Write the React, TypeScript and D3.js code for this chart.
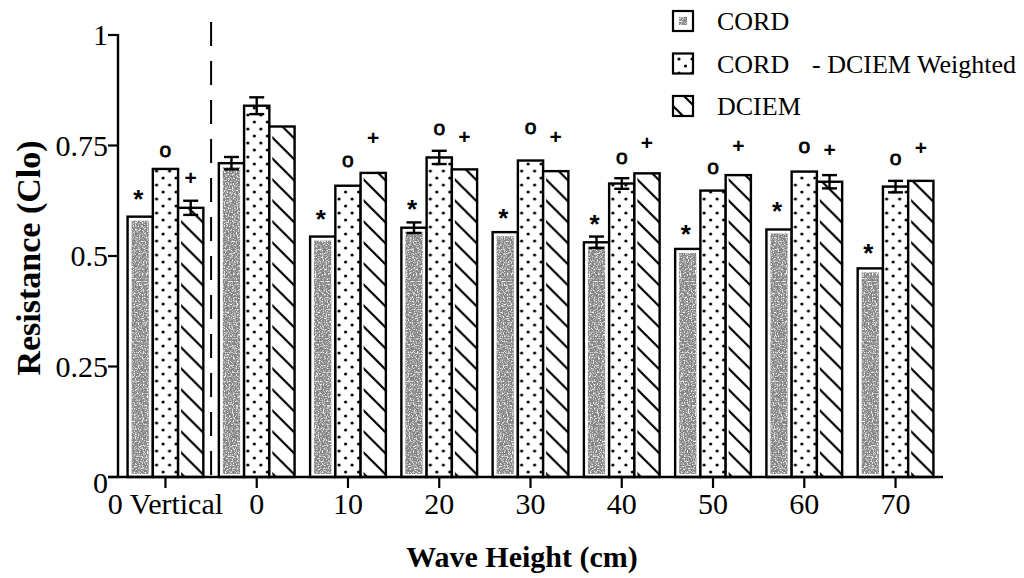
import React from "react";
import * as d3 from "d3";

const categories = ["0 Vertical", "0", "10", "20", "30", "40", "50", "60", "70"];
const seriesNames = ["CORD", "CORD - DCIEM Weighted", "DCIEM"];
const cordValues = [0.589, 0.71, 0.544, 0.564, 0.554, 0.531, 0.516, 0.56, 0.472];
const weightedValues = [0.697, 0.84, 0.659, 0.723, 0.716, 0.664, 0.648, 0.691, 0.657];
const dciemValues = [0.609, 0.793, 0.688, 0.696, 0.692, 0.687, 0.683, 0.668, 0.67];
const cordErrors = [0, 0.014, 0, 0.012, 0, 0.013, 0, 0, 0];
const weightedErrors = [0, 0.019, 0, 0.015, 0, 0.012, 0, 0, 0.013];
const dciemErrors = [0.016, 0, 0, 0, 0, 0, 0, 0.015, 0];
// significance markers (level in Clo where each symbol sits)
const starLevels = [0.643, null, 0.597, 0.62, 0.6, 0.586, 0.563, 0.615, 0.52];
const circleLevels = [0.738, null, 0.716, 0.787, 0.79, 0.722, 0.699, 0.747, 0.719];
const plusLevels = [0.676, null, 0.767, 0.769, 0.769, 0.756, 0.749, 0.74, 0.744];
const yTicks = [0, 0.25, 0.5, 0.75, 1];
const yTickLabels = ["0", "0.25", "0.5", "0.75", "1"];

const W = 1024;
const H = 578;
const SERIF = "'Liberation Serif', 'Times New Roman', serif";
const SANS = "'Liberation Sans', Arial, sans-serif";

export default function App() {
  const x = d3.scaleBand<string>().domain(categories).range([118, 943]).paddingInner(0.17).paddingOuter(0.105);
  const xs = d3.scaleBand<string>().domain(seriesNames).range([0, x.bandwidth()]);
  const y = d3.scaleLinear().domain([0, 1]).range([477, 35]);
  const bw = xs.bandwidth();
  const fills = ["url(#stipple)", "url(#dots)", "url(#hatch)"];
  const values = [cordValues, weightedValues, dciemValues];
  const errors = [cordErrors, weightedErrors, dciemErrors];
  const markers = [
    { levels: starLevels, sym: "*", series: 0, size: 26, weight: "bold", dy: 15, dx: -2 },
    { levels: circleLevels, sym: "o", series: 1, size: 21, weight: "normal", dy: 6, dx: 0 },
    { levels: plusLevels, sym: "+", series: 2, size: 21, weight: "bold", dy: 7, dx: 0 },
  ];
  const dashX = ((x(categories[0]) as number) + x.bandwidth() + (x(categories[1]) as number)) / 2;

  return (
    <svg width={W} height={H} style={{ position: "absolute", left: 0, top: 0, background: "#fff" }}>
      <defs>
        <filter id="grain" x="0" y="0" width="100%" height="100%">
          <feTurbulence type="fractalNoise" baseFrequency="0.75" numOctaves="2" seed="7" result="noise" />
          <feColorMatrix
            in="noise"
            type="matrix"
            values="0 0 0 0 0.22  0 0 0 0 0.22  0 0 0 0 0.22  0 0 0 3.4 -0.85"
            result="spk"
          />
          <feComposite in="spk" in2="SourceGraphic" operator="in" />
        </filter>
        <pattern id="dots" patternUnits="userSpaceOnUse" width="13" height="14">
          <rect width="13" height="14" fill="#fff" />
          <circle cx="3" cy="3" r="1.6" fill="#000" />
          <circle cx="9.5" cy="10" r="1.6" fill="#000" />
        </pattern>
        <pattern id="hatch" patternUnits="userSpaceOnUse" width="21" height="21">
          <rect width="21" height="21" fill="#fff" />
          <path d="M0,0 L21,21 M-2,19 L2,23 M19,-2 L23,2" stroke="#000" strokeWidth="2.2" />
        </pattern>
      </defs>

      {/* bars */}
      {categories.map((c, i) => (
        <g key={c} transform={`translate(${x(c)},0)`}>
          {values.map((vals, s) => {
            const bx = xs(seriesNames[s]) as number;
            const top = y(vals[i]);
            const h = y(0) - top;
            return (
              <g key={s}>
                <rect x={bx} y={top} width={bw} height={h} fill={s === 0 ? "#fff" : fills[s]} />
                {s === 0 && (
                  <rect x={bx + 4} y={top + 4} width={bw - 8} height={h - 7} fill="#fff" filter="url(#grain)" />
                )}
                {s === 2 && <rect x={bx} y={top} width={3} height={h} fill="#fff" />}
                <rect x={bx} y={top} width={bw} height={h} fill="none" stroke="#000" strokeWidth={2.4} />
              </g>
            );
          })}
          {errors.map((errs, s) => {
            const e = errs[i];
            if (!e) return null;
            const cx = (xs(seriesNames[s]) as number) + bw / 2;
            const v = values[s][i];
            return (
              <g key={"e" + s} stroke="#000" strokeWidth={2.4}>
                <line x1={cx} x2={cx} y1={y(v - e)} y2={y(v + e)} />
                <line x1={cx - 7.5} x2={cx + 7.5} y1={y(v + e)} y2={y(v + e)} />
                <line x1={cx - 7.5} x2={cx + 7.5} y1={y(v - e)} y2={y(v - e)} />
              </g>
            );
          })}
          {markers.map((m) => {
            const lv = m.levels[i];
            if (lv == null) return null;
            const cx = (xs(seriesNames[m.series]) as number) + bw / 2 + m.dx;
            return (
              <text
                key={m.sym}
                x={cx}
                y={y(lv) + m.dy}
                textAnchor="middle"
                fontFamily={SANS}
                fontWeight={m.weight}
                fontSize={m.size}
                fill="#000"
                stroke={m.sym === "o" ? "#000" : "none"}
                strokeWidth={m.sym === "o" ? 0.8 : 0}
              >
                {m.sym}
              </text>
            );
          })}
        </g>
      ))}

      {/* dashed separator */}
      <line x1={dashX} x2={dashX} y1={22} y2={y(0)} stroke="#000" strokeWidth={2} strokeDasharray="24 15" />

      {/* y axis */}
      <line x1={118} x2={118} y1={y(1) - 1} y2={y(0)} stroke="#000" strokeWidth={2.4} />
      {yTicks.map((t, i) => (
        <g key={t}>
          <line x1={108} x2={118} y1={y(t)} y2={y(t)} stroke="#000" strokeWidth={2.2} />
          <text
            x={108}
            y={y(t) + (t === 0 ? 16 : 10)}
            textAnchor="end"
            fontFamily={SERIF}
            fontSize={30}
            fill="#000"
          >
            {yTickLabels[i]}
          </text>
        </g>
      ))}
      {/* x axis */}
      <line x1={108} x2={943} y1={y(0)} y2={y(0)} stroke="#000" strokeWidth={2.6} />
      {categories.map((c) => {
        const cx = (x(c) as number) + x.bandwidth() / 2;
        return (
          <g key={"t" + c}>
            <line x1={cx} x2={cx} y1={y(0)} y2={y(0) + 11} stroke="#000" strokeWidth={2.2} />
            <text x={cx} y={514} textAnchor="middle" fontFamily={SERIF} fontSize={30} fill="#000">
              {c}
            </text>
          </g>
        );
      })}

      {/* axis titles */}
      <text x={522} y={567} textAnchor="middle" fontFamily={SERIF} fontWeight="bold" fontSize={30} fill="#000">
        Wave Height (cm)
      </text>
      <text
        transform="translate(40,258) rotate(-90)"
        textAnchor="middle"
        fontFamily={SERIF}
        fontWeight="bold"
        fontSize={34}
        fill="#000"
      >
        Resistance (Clo)
      </text>

      {/* legend */}
      {seriesNames.map((n, s) => {
        const cy = 21 + s * 42.5;
        return (
          <g key={"l" + n}>
            <rect x={673} y={cy - 10} width={20} height={20} fill={s === 0 ? "#fff" : fills[s]} />
            {s === 0 && <rect x={679} y={cy - 4} width={8} height={8} fill="#fff" filter="url(#grain)" />}
            <rect x={673} y={cy - 10} width={20} height={20} fill="none" stroke="#000" strokeWidth={2.2} />
            {s === 1 ? (
              <text y={cy + 9} fontFamily={SERIF} fontSize={26} fill="#000">
                <tspan x={717}>CORD</tspan>
                <tspan x={812}>- DCIEM Weighted</tspan>
              </text>
            ) : (
              <text x={717} y={cy + 9} fontFamily={SERIF} fontSize={26} fill="#000">
                {n}
              </text>
            )}
          </g>
        );
      })}
    </svg>
  );
}
